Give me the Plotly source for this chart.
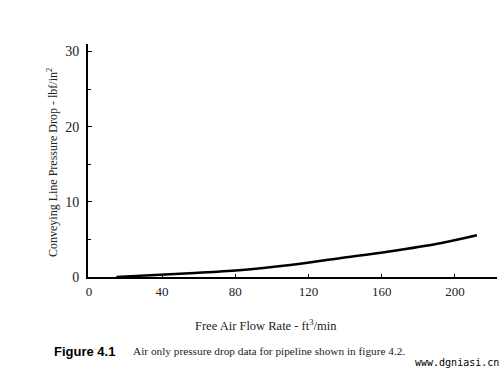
import plotly.graph_objects as go

flow = [15, 55, 82, 110, 137, 164, 192, 212]
pressure = [0.0, 0.5, 0.9, 1.6, 2.5, 3.4, 4.5, 5.55]

x_ticks = [0, 40, 80, 120, 160, 200]
y_ticks = [0, 10, 20, 30]

L, R, T, B = 88, 6, 44, 91
W, H = 503, 368
pw = W - L - R
ph = H - T - B

def px(x):
    return (x - L) / pw

def py(y):
    return (H - B - y) / ph

serif = "Liberation Serif"

fig = go.Figure()
fig.add_trace(go.Scatter(
    x=flow, y=pressure, mode="lines",
    line=dict(color="black", width=2.5, shape="spline", smoothing=1.0),
    hoverinfo="skip", showlegend=False,
))

fig.update_layout(
    width=W, height=H,
    margin=dict(l=L, r=R, t=T, b=B),
    paper_bgcolor="white", plot_bgcolor="white",
    showlegend=False,
    font=dict(family=serif, color="black"),
    xaxis=dict(
        range=[-0.5, 223], tickvals=x_ticks, ticktext=[str(v) for v in x_ticks],
        showgrid=False, zeroline=False, showline=True, linecolor="black", linewidth=2,
        ticks="inside", ticklen=3, tickwidth=1, tickcolor="black",
        tickfont=dict(family=serif, size=13, color="#222"),
        ticklabelstandoff=1,
    ),
    yaxis=dict(
        range=[0, 31], tickvals=y_ticks, ticktext=[str(v) for v in y_ticks],
        showgrid=False, zeroline=False, showline=True, linecolor="black", linewidth=2,
        ticks="inside", ticklen=4, tickwidth=1, tickcolor="black",
        minor=dict(dtick=5, ticks="inside", ticklen=3, tickwidth=1, tickcolor="black"),
        tickfont=dict(family=serif, size=14, color="#222"),
        ticklabelstandoff=4,
    ),
    annotations=[
        dict(text="Conveying Line Pressure Drop - lbf/in<sup>2</sup>", xref="paper", yref="paper",
             x=px(52), y=py(163), textangle=-90, showarrow=False,
             font=dict(family=serif, size=12, color="#222"), xanchor="center", yanchor="middle"),
        dict(text="Free Air Flow Rate - ft<sup>3</sup>/min", xref="paper", yref="paper",
             x=px(266), y=py(325), showarrow=False,
             font=dict(family=serif, size=12.5, color="#222"), xanchor="center", yanchor="middle"),
        dict(text="<b>Figure 4.1</b>", xref="paper", yref="paper",
             x=px(52), y=py(351), showarrow=False,
             font=dict(family="Liberation Sans", size=13, color="black"), xanchor="left", yanchor="middle"),
        dict(text="Air only pressure drop data for pipeline shown in figure 4.2.", xref="paper", yref="paper",
             x=px(131), y=py(351), showarrow=False,
             font=dict(family=serif, size=11.3, color="#222"), xanchor="left", yanchor="middle"),
        dict(text="www.dgniasi.cn", xref="paper", yref="paper",
             x=px(413), y=py(362), showarrow=False,
             font=dict(family="DejaVu Sans Mono", size=10, color="black"), xanchor="left", yanchor="middle"),
    ],
)

fig.write_html("out.html", config={"displayModeBar": False},
               post_script="document.body.style.margin='0';document.body.style.overflow='hidden';")
